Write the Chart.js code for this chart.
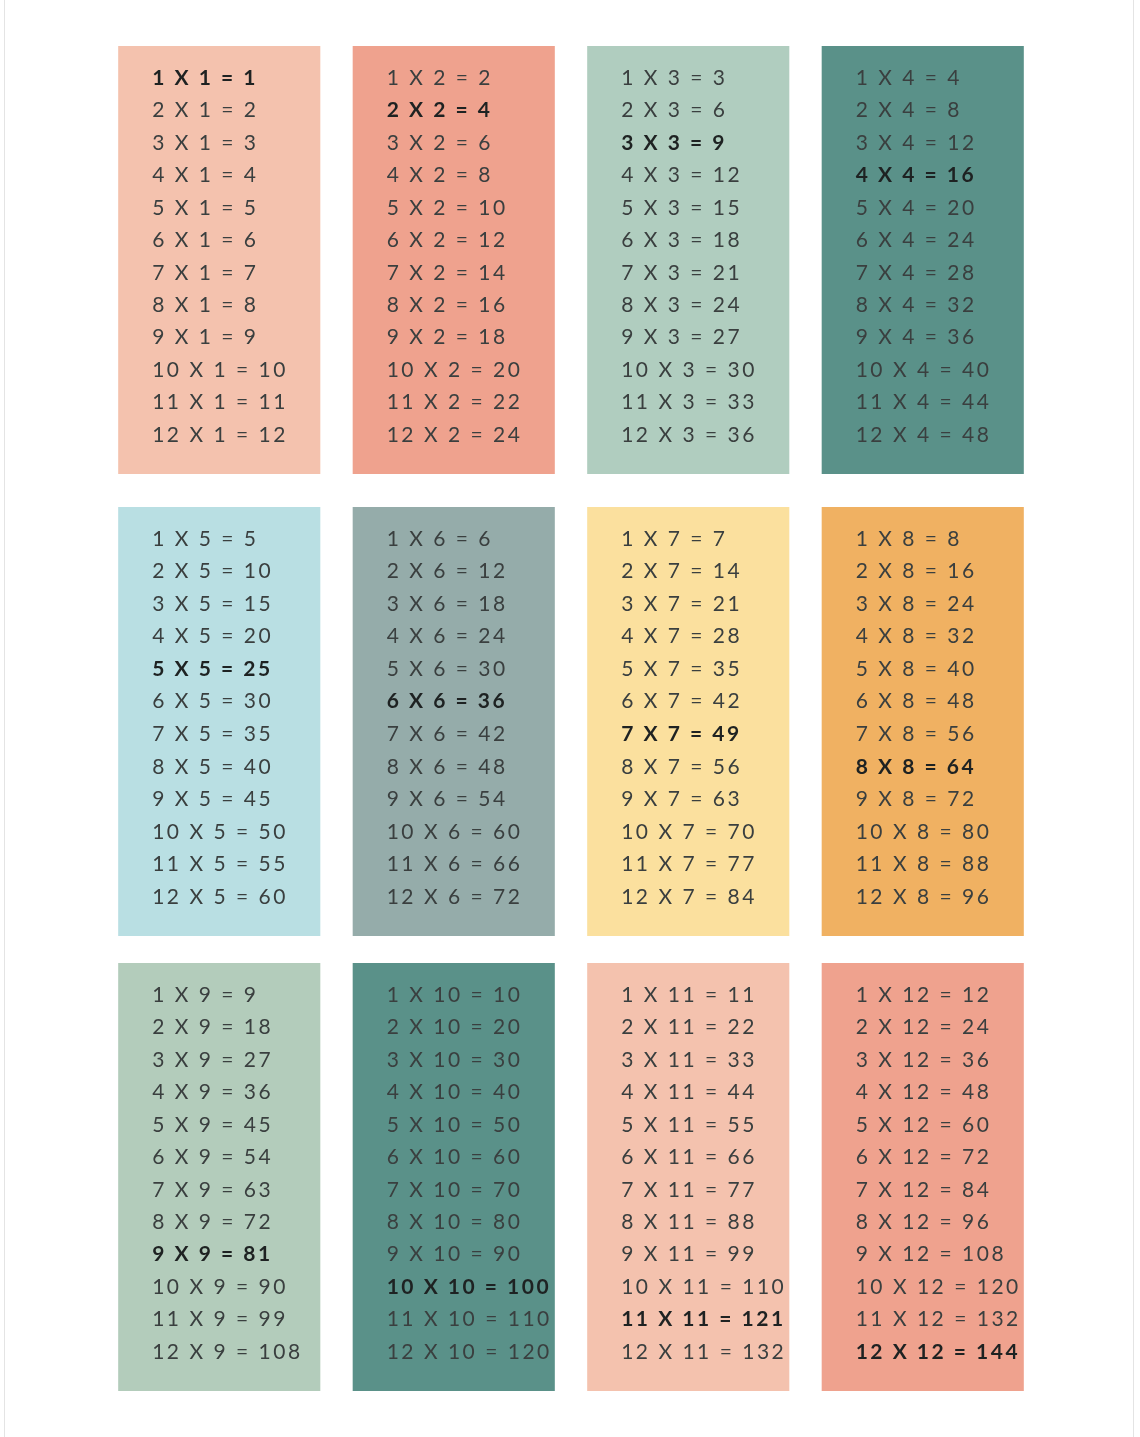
<!DOCTYPE html>
<html><head><meta charset="utf-8">
<script src="https://cdn.jsdelivr.net/npm/chart.js@4"></script>
<style>
html,body{margin:0;padding:0;background:#fff;}
#wrap{position:relative;width:1140px;height:1437px;}
#wrap:before{content:"";position:absolute;left:4px;top:0;bottom:0;width:1px;background:#e4e4e4;}
#wrap:after{content:"";position:absolute;right:6px;top:0;bottom:0;width:1px;background:#e4e4e4;}
</style></head>
<body><div id="wrap"><canvas id="c" width="1140" height="1437"></canvas></div>
<script>
const columns = ['A','B','C','D'];
const tables = [1,2,3,4,5,6,7,8,9,10,11,12];
const multipliers = [1,2,3,4,5,6,7,8,9,10,11,12];
const rowRanges = [[46,474],[507,936],[963,1391]];
const cardColors = ['#f4c2ae','#efa28e','#b0cdbf','#5a9189',
                    '#b9dfe3','#95acaa','#fbe09e','#f0b162',
                    '#b3ccbb','#5a9189','#f4c2ae','#efa28e'];
const textColor = '#3a3f3f';

const datasets = rowRanges.map((r,ri)=>({
  data: columns.map(()=>r),
  backgroundColor: columns.map((_,ci)=>cardColors[ri*4+ci]),
  grouped:false, barPercentage:0.862, categoryPercentage:1, borderWidth:0
}));

const textPlugin = {
  id:'eq',
  afterDatasetsDraw(chart){
    const ctx = chart.ctx;
    chart.data.datasets.forEach((ds,ri)=>{
      const meta = chart.getDatasetMeta(ri);
      meta.data.forEach((bar,ci)=>{
        const t = tables[ri*4+ci];
        const left = bar.x - bar.width/2 + 34;
        const yTop = chart.scales.y.getPixelForValue(ds.data[ci][0]);
        const yBot = chart.scales.y.getPixelForValue(ds.data[ci][1]);
        const step = (yBot - yTop - 58) / 11.4;
        multipliers.forEach((m,k)=>{
          const bold = m===t;
          ctx.save();
          ctx.font = (bold?'bold ':'') + '21px Lato';
          ctx.letterSpacing = '2.5px';
          ctx.fillStyle = bold ? '#1e2222' : textColor;
          ctx.textBaseline='middle';
          ctx.fillText(m+' X '+t+' = '+(m*t), left, yTop + 32 + k*step);
          ctx.restore();
        });
      });
    });
  }
};

new Chart(document.getElementById('c'),{
  type:'bar',
  data:{labels:columns,datasets},
  options:{
    responsive:false, animation:false,
    layout:{padding:{left:102,right:100,top:0,bottom:0}},
    plugins:{legend:{display:false},tooltip:{enabled:false}},
    scales:{
      x:{display:false},
      y:{display:false,min:0,max:1437,reverse:true}
    }
  },
  plugins:[textPlugin]
});
</script></body></html>
